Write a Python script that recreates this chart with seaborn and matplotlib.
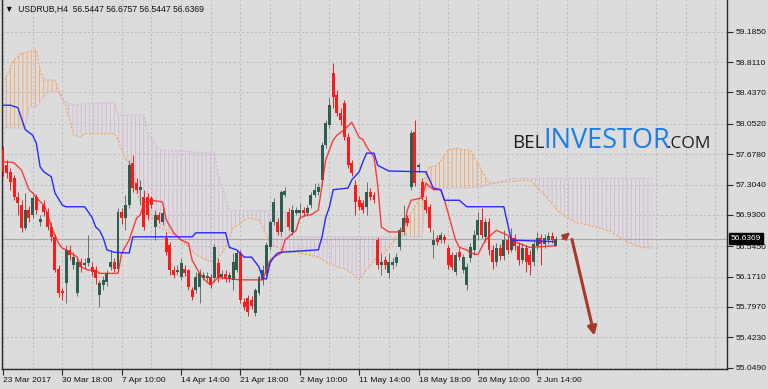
import matplotlib
matplotlib.use("Agg")
import numpy as np
import pandas as pd
import matplotlib.pyplot as plt
import seaborn as sns

# ---------------- data ----------------
symbol_title = "▼  USDRUB,H4  56.5447 56.6757 56.5447 56.6369"
last_price = 56.6369

date_labels = ["23 Mar 2017", "30 Mar 18:00", "7 Apr 10:00", "14 Apr 14:00", "21 Apr 18:00",
               "2 May 10:00", "11 May 14:00", "18 May 18:00", "26 May 10:00", "2 Jun 14:00"]
date_label_bars = [0, 16, 32, 48, 64, 80, 96, 112, 128, 144]
price_ticks = [59.1850, 58.8110, 58.4370, 58.0520, 57.6780, 57.3040,
               56.9300, 56.5450, 56.1710, 55.7970, 55.4230, 55.0490]

opens = [57.73, 57.54, 57.46, 57.38, 57.15, 57.05, 56.77, 56.99, 56.93, 57.15,
         56.84, 57.05, 56.97, 56.78, 56.66, 56.27, 55.99, 56.09, 56.50, 56.31,
         55.97, 56.35, 56.31, 56.34, 56.29, 56.25, 55.94, 56.07, 56.10, 56.29,
         56.35, 56.27, 56.97, 56.89, 57.05, 57.57, 57.32, 57.24, 57.15, 57.15,
         57.14, 56.78, 56.93, 56.84, 56.65, 56.56, 56.25, 56.23, 56.16, 56.27,
         56.25, 56.00, 56.00, 56.04, 56.15, 56.15, 56.16, 56.15, 56.34, 56.16,
         56.20, 56.14, 56.13, 56.25, 56.46, 55.86, 55.91, 55.88, 55.72, 55.97,
         56.13, 56.21, 56.53, 56.84, 56.84, 56.72, 57.17, 56.97, 56.72, 56.95,
         56.95, 56.99, 56.95, 57.05, 57.17, 57.21, 57.36, 57.79, 58.04, 58.68,
         58.40, 58.18, 58.31, 57.89, 57.57, 57.30, 57.11, 57.08, 57.03, 57.21,
         57.17, 56.62, 56.31, 56.37, 56.21, 56.31, 56.34, 56.53, 56.72, 56.89,
         57.27, 57.95, 57.52, 57.33, 57.11, 57.03, 56.56, 56.65, 56.62, 56.66,
         56.52, 56.44, 56.23, 56.47, 56.25, 56.07, 56.40, 56.50, 56.68, 56.87,
         56.66, 56.84, 56.50, 56.35, 56.52, 56.42, 56.62, 56.50, 56.65, 56.55,
         56.37, 56.52, 56.44, 56.35, 56.55, 56.65, 56.57, 56.62, 56.67, 56.5447]
closes = [57.46, 57.45, 57.33, 57.15, 57.08, 56.77, 56.99, 56.89, 57.14, 56.99,
          56.88, 56.97, 56.78, 56.66, 56.25, 55.97, 55.97, 56.50, 56.44, 56.41,
          56.35, 56.29, 56.34, 56.40, 56.23, 56.15, 56.09, 56.13, 56.21, 56.35,
          56.27, 56.97, 56.89, 57.05, 57.54, 57.26, 57.24, 57.27, 56.78, 56.93,
          57.05, 56.93, 56.87, 56.95, 56.47, 56.25, 56.19, 56.25, 56.34, 56.21,
          56.04, 55.92, 56.16, 56.21, 56.19, 56.18, 56.07, 56.53, 56.15, 56.20,
          56.14, 56.19, 56.35, 56.46, 55.88, 55.80, 55.73, 55.81, 56.00, 56.16,
          56.25, 56.56, 56.84, 57.09, 56.72, 57.21, 57.22, 56.78, 56.99, 56.99,
          56.99, 56.95, 57.01, 57.17, 57.24, 57.27, 57.79, 58.06, 58.28, 58.38,
          58.18, 58.10, 57.89, 57.54, 57.45, 57.09, 57.03, 56.99, 57.21, 57.15,
          57.11, 56.31, 56.35, 56.31, 56.35, 56.35, 56.41, 56.74, 56.89, 56.83,
          57.94, 57.32, 57.54, 57.15, 56.99, 56.77, 56.62, 56.60, 56.68, 56.62,
          56.31, 56.29, 56.44, 56.41, 56.41, 56.29, 56.53, 56.68, 56.87, 56.68,
          56.84, 56.50, 56.35, 56.52, 56.42, 56.62, 56.50, 56.65, 56.55, 56.37,
          56.52, 56.35, 56.31, 56.57, 56.65, 56.57, 56.65, 56.67, 56.62, 56.6369]
highs = [57.78, 57.61, 57.51, 57.42, 57.21, 57.11, 57.20, 57.04, 57.17, 57.19,
         56.93, 57.11, 57.01, 56.84, 56.69, 56.31, 56.03, 56.56, 56.56, 56.47,
         56.40, 56.40, 56.40, 56.68, 56.35, 56.30, 56.13, 56.18, 56.25, 56.50,
         56.40, 57.01, 57.01, 57.17, 57.61, 57.67, 57.38, 57.36, 57.24, 57.20,
         57.16, 56.99, 56.97, 57.01, 56.72, 56.60, 56.30, 56.31, 56.40, 56.31,
         56.27, 56.04, 56.23, 56.27, 56.23, 56.23, 56.20, 56.57, 56.40, 56.25,
         56.25, 56.23, 56.46, 56.50, 56.50, 55.91, 55.94, 55.93, 56.03, 56.19,
         56.31, 56.60, 56.87, 57.14, 56.89, 57.24, 57.27, 57.01, 57.05, 57.03,
         57.08, 57.03, 57.05, 57.21, 57.32, 57.32, 57.83, 58.10, 58.38, 58.80,
         58.47, 58.25, 58.34, 57.94, 57.61, 57.36, 57.16, 57.11, 57.33, 57.26,
         57.21, 56.66, 56.46, 56.42, 56.46, 56.40, 56.46, 56.78, 57.05, 56.93,
         57.98, 58.10, 57.57, 57.38, 57.16, 57.06, 56.74, 56.68, 56.72, 56.69,
         56.56, 56.47, 56.47, 56.52, 56.45, 56.34, 56.58, 56.74, 56.97, 57.01,
         56.89, 56.89, 56.56, 56.58, 56.57, 56.74, 56.67, 56.77, 56.69, 56.60,
         56.58, 56.56, 56.50, 56.62, 56.72, 56.69, 56.69, 56.72, 56.72, 56.6757]
lows = [57.41, 57.38, 57.24, 57.11, 56.93, 56.72, 56.74, 56.84, 56.89, 56.94,
        56.79, 56.92, 56.74, 56.61, 56.23, 55.92, 55.88, 55.84, 56.37, 56.27,
        55.93, 56.23, 56.27, 56.30, 56.18, 56.08, 55.80, 56.00, 56.05, 56.25,
        56.23, 56.23, 56.82, 56.74, 57.01, 57.21, 57.20, 57.05, 56.74, 56.87,
        57.01, 56.62, 56.83, 56.81, 56.44, 56.19, 56.15, 56.19, 56.13, 56.18,
        56.00, 55.88, 55.97, 55.84, 56.13, 56.12, 56.03, 56.10, 56.10, 56.14,
        56.10, 56.10, 56.00, 56.23, 55.84, 55.76, 55.69, 55.77, 55.69, 55.94,
        56.07, 56.18, 56.50, 56.81, 56.68, 56.67, 57.15, 56.74, 56.68, 56.93,
        56.90, 56.92, 56.92, 57.01, 57.15, 57.17, 57.30, 57.75, 58.00, 58.25,
        58.15, 58.04, 57.85, 57.51, 57.41, 56.93, 56.99, 56.95, 56.93, 57.11,
        57.08, 56.27, 56.19, 56.27, 56.15, 56.27, 56.30, 56.50, 56.68, 56.79,
        57.24, 57.29, 57.46, 57.11, 56.95, 56.72, 56.40, 56.56, 56.58, 56.58,
        56.27, 56.25, 56.19, 56.37, 56.21, 56.00, 56.35, 56.44, 56.62, 56.65,
        56.60, 56.44, 56.27, 56.30, 56.37, 56.37, 56.45, 56.47, 56.50, 56.31,
        56.34, 56.23, 56.19, 56.30, 56.50, 56.31, 56.52, 56.57, 56.58, 56.5447]

# Kijun-sen (blue), read at its vertices
kijun_bars = [0, 2, 4, 6, 8, 9, 10, 11, 13, 14, 16, 17, 22, 24, 25, 26, 27, 28, 30, 34,
              35, 51, 52, 60, 61, 63, 65, 67, 69, 70, 71, 72, 73, 74, 75, 85, 86, 87, 88, 89,
              93, 94, 96, 97, 98, 100, 101, 104, 114, 116, 118, 119, 123, 125, 135, 137, 149]
kijun_vals = [58.28, 58.28, 58.25, 57.98, 57.91, 57.81, 57.52, 57.46, 57.40, 57.20,
              57.05, 57.03, 57.03, 56.90, 56.78, 56.74, 56.65, 56.50, 56.47, 56.46,
              56.66, 56.66, 56.71, 56.71, 56.53, 56.50, 56.41, 56.41, 56.29, 56.15,
              56.14, 56.34, 56.41, 56.46, 56.47, 56.50, 56.66, 56.90, 57.03, 57.24,
              57.26, 57.36, 57.46, 57.58, 57.69, 57.69, 57.54, 57.47, 57.46, 57.26,
              57.24, 57.11, 57.11, 57.03, 57.03, 56.62, 56.60]

# Tenkan-sen (red), read at its vertices
tenkan_bars = [0, 2, 3, 5, 6, 7, 8, 9, 11, 12, 13, 15, 16, 17, 20, 21, 23, 25, 26, 31,
               32, 34, 36, 37, 38, 40, 43, 44, 46, 48, 50, 51, 53, 55, 56, 58, 64, 70, 72, 73,
               75, 76, 77, 79, 80, 82, 83, 85, 86, 87, 89, 90, 92, 94, 95, 96, 97, 98, 100, 101,
               102, 104, 107, 108, 109, 110, 113, 114, 116, 118, 119, 120, 122, 123, 125, 126,
               128, 130, 133, 136, 139, 142, 149]
tenkan_vals = [57.58, 57.58, 57.57, 57.48, 57.36, 57.24, 57.20, 57.14, 57.05, 56.95,
               56.78, 56.58, 56.52, 56.50, 56.41, 56.29, 56.25, 56.25, 56.21, 56.21,
               56.46, 56.62, 56.89, 56.93, 57.08, 57.11, 57.09, 56.87, 56.71, 56.62,
               56.58, 56.37, 56.21, 56.10, 56.07, 56.16, 56.13, 56.13, 56.37, 56.41,
               56.46, 56.62, 56.66, 56.74, 56.89, 56.93, 56.93, 56.99, 57.30, 57.61,
               57.85, 57.91, 57.98, 58.07, 57.98, 57.88, 57.86, 57.77, 57.64, 57.30,
               56.78, 56.72, 56.72, 56.74, 56.99, 57.11, 57.14, 57.32, 57.24, 57.24,
               57.11, 56.95, 56.62, 56.53, 56.50, 56.46, 56.44, 56.62, 56.74, 56.68,
               56.58, 56.53, 56.55]

# Senkou spans (cloud), read at common bars
cloud_bars = [0, 3, 5, 6, 7, 9, 10, 11, 12, 14, 15, 16, 17, 18, 19, 21, 22, 30, 31, 32,
              33, 34, 35, 36, 38, 39, 40, 42, 44, 47, 50, 52, 55, 56, 57, 58, 59, 61, 62, 64,
              66, 69, 70, 72, 75, 77, 78, 80, 85, 87, 90, 92, 94, 96, 98, 100, 103, 105, 107, 108,
              110, 112, 113, 114, 115, 117, 120, 122, 124, 126, 129, 131, 137, 142, 146, 150,
              154, 160, 164, 168, 172, 175]
span_a = [58.55, 58.84, 58.92, 58.93, 58.94, 58.96, 58.71, 58.59, 58.59, 58.59,
          58.47, 58.37, 58.26, 58.10, 57.91, 57.89, 57.93, 57.93, 57.85, 57.73,
          57.61, 57.58, 57.52, 57.20, 56.99, 56.95, 56.90, 56.78, 56.74, 56.66,
          56.53, 56.44, 56.37, 56.36, 56.35, 56.40, 56.46, 56.62, 56.77, 56.83,
          56.89, 56.87, 56.78, 56.58, 56.50, 56.48, 56.48, 56.46, 56.41, 56.35,
          56.29, 56.27, 56.21, 56.13, 56.25, 56.37, 56.47, 56.58, 56.71, 56.83,
          56.95, 57.11, 57.21, 57.45, 57.52, 57.54, 57.73, 57.75, 57.73, 57.73,
          57.48, 57.32, 57.34, 57.36, 57.17, 56.96, 56.84, 56.78, 56.72, 56.60,
          56.53, 56.52]
span_b = [58.00, 58.00, 58.00, 58.00, 58.26, 58.26, 58.32, 58.38, 58.44, 58.44,
          58.44, 58.34, 58.32, 58.30, 58.28, 58.29, 58.30, 58.31, 58.16, 58.16,
          58.16, 58.16, 58.16, 58.16, 58.16, 57.94, 57.87, 57.73, 57.72, 57.72,
          57.71, 57.70, 57.70, 57.70, 57.70, 57.42, 57.28, 56.99, 56.98, 56.98,
          56.98, 56.98, 56.98, 56.98, 56.97, 56.96, 56.66, 56.66, 56.66, 56.66,
          56.66, 56.66, 56.66, 56.66, 56.66, 56.66, 56.66, 56.66, 56.66, 56.66,
          56.66, 56.66, 56.66, 57.26, 57.26, 57.26, 57.26, 57.26, 57.26, 57.26,
          57.28, 57.30, 57.38, 57.38, 57.38, 57.38, 57.38, 57.38, 57.38, 57.38,
          57.38, 57.38]

# ---------------- style ----------------
BG = "#dcdcdc"
GRID = "#bdbdbd"
AXC = "#2a2a2a"
BULL = "#2f5d4e"
BULL_WICK = "#5f7570"
BEAR = "#ff1a1a"
TENKAN = "#ff2020"
KIJUN = "#2a2aff"
SPAN_A = "#f4a460"
SPAN_B = "#d5b5d8"
ARROW = "#a8382b"
FONT = ['Liberation Sans', 'DejaVu Sans']

sns.set_theme(style="white")
plt.rcParams['font.family'] = FONT
plt.rcParams['hatch.linewidth'] = 0.6

W, H = 768, 389
fig = plt.figure(figsize=(W / 100, H / 100), dpi=100, facecolor=BG)
ax = fig.add_axes([2 / W, 20 / H, 725 / W, 369 / H])
ax.set_facecolor(BG)

ax.set_xlim(-0.27, 195.15)
ax.set_ylim(55.033, 59.575)

# grid
for b in range(0, 196, 8):
    ax.axvline(b, color=GRID, lw=0.7, ls=(0, (2.2, 2.2)), zorder=0.5)
for p in price_ticks:
    ax.axhline(p, color=GRID, lw=0.7, ls=(0, (2.2, 2.2)), zorder=0.5)

# cloud
xa = np.array(cloud_bars, dtype=float)
a = np.array(span_a)
b = np.array(span_b)
ax.fill_between(xa, a, b, where=a >= b, interpolate=True, facecolor="none",
                edgecolor=SPAN_A, hatch="||||", linewidth=0, zorder=1)
ax.fill_between(xa, a, b, where=a < b, interpolate=True, facecolor="none",
                edgecolor=SPAN_B, hatch="||||", linewidth=0, zorder=1)
sns.lineplot(x=cloud_bars, y=span_a, ax=ax, color=SPAN_A, lw=0.9,
             linestyle=(0, (1.5, 1.5)), errorbar=None, zorder=1.5)
sns.lineplot(x=cloud_bars, y=span_b, ax=ax, color=SPAN_B, lw=0.9,
             linestyle=(0, (1.5, 1.5)), errorbar=None, zorder=1.5)

# bid line
ax.axhline(last_price, color="#a9a9a9", lw=0.8, zorder=1.2)

# candles
df = pd.DataFrame({"o": opens, "h": highs, "l": lows, "c": closes})
df["i"] = np.arange(len(df))
up = df["c"] >= df["o"]
for mask, body_col, wick_col in [(up, BULL, BULL_WICK), (~up, BEAR, BEAR)]:
    d = df[mask]
    ax.vlines(d["i"], d["l"], d["h"], color=wick_col, lw=0.7, zorder=3)
    bottom = np.minimum(d["o"], d["c"])
    height = np.maximum(np.abs(d["c"] - d["o"]), 0.012)
    ax.bar(d["i"], height, bottom=bottom, width=0.8, color=body_col,
           linewidth=0, zorder=3.2)

# tenkan / kijun
sns.lineplot(x=tenkan_bars, y=tenkan_vals, ax=ax, color=TENKAN, lw=1.0,
             errorbar=None, zorder=4, alpha=0.85)
sns.lineplot(x=kijun_bars, y=kijun_vals, ax=ax, color=KIJUN, lw=1.0,
             errorbar=None, zorder=4)

# arrows
ax.annotate("", xy=(153.4, 56.74), xytext=(150.3, 56.61),
            arrowprops=dict(arrowstyle="-|>", color=ARROW, lw=1.6, mutation_scale=10),
            zorder=6)
ax.annotate("", xy=(159.6, 55.41), xytext=(153.2, 56.66),
            arrowprops=dict(arrowstyle="-|>", color=ARROW, lw=2.2, mutation_scale=13),
            zorder=6)

# axes
ax.spines["top"].set_visible(False)
for s in ["left", "right", "bottom"]:
    ax.spines[s].set_color(AXC)
    ax.spines[s].set_linewidth(1.0)

ax.yaxis.tick_right()
ax.set_yticks(price_ticks)
ax.set_yticklabels([f"{v:.4f}" for v in price_ticks])
ax.set_xticks(date_label_bars)
ax.set_xticklabels(date_labels, ha="left")
ax.tick_params(axis="y", right=True, left=False, length=4, width=0.8, color=AXC,
               labelsize=6.1, pad=2, labelcolor="#111111")
ax.tick_params(axis="x", bottom=True, length=4, width=0.8, color=AXC,
               labelsize=6.1, pad=1.5, labelcolor="#111111")
ax.set_xlabel("")
ax.set_ylabel("")
ax.grid(False)

# price label
ax.text(1.0055, last_price, f"{last_price:.4f}", transform=ax.get_yaxis_transform(),
        ha="left", va="center", fontsize=6.1, color="white", zorder=10, clip_on=False,
        bbox=dict(boxstyle="square,pad=0.25", fc="black", ec="black"))

# title
fig.text(5 / W, 1 - 9 / H, symbol_title, fontsize=6.2, ha="left", va="center",
         color="#111111", family=FONT)

# watermark logo
fig.text(512 / W, 1 - 148 / H, "BEL", fontsize=13.5, color="#1e1e1e",
         family=["Open Sans", "DejaVu Sans"], ha="left", va="baseline", zorder=7)
fig.text(543 / W, 1 - 148 / H, "INVESTOR", fontsize=19.5, color="#1b7ee6",
         family=["Open Sans", "DejaVu Sans"], ha="left", va="baseline", zorder=7)
fig.text(667 / W, 1 - 148 / H, ".COM", fontsize=12.5, color="#1e1e1e",
         family=["Open Sans", "DejaVu Sans"], ha="left", va="baseline", zorder=7)

fig.savefig("out.png", dpi=100, facecolor=BG)
